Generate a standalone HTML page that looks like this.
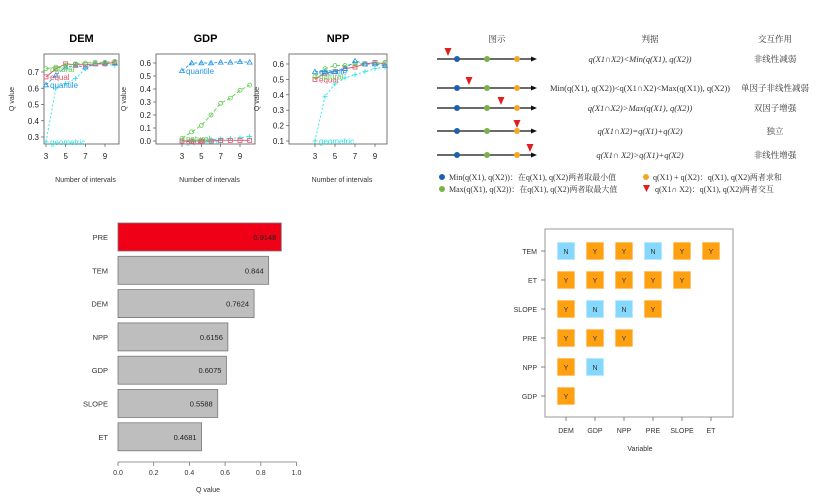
<!DOCTYPE html>
<html><head><meta charset="utf-8"><style>
body{margin:0;background:#fff}
svg{display:block;font-family:"Liberation Sans",sans-serif}
.cn{font-family:"Liberation Serif","Noto Serif CJK SC",serif}
</style></head><body>
<svg id="s" width="829" height="504" viewBox="0 0 829 504">
<g id="diag" class="cn" font-size="8.5" fill="#333">
<text x="497" y="42" text-anchor="middle">图示</text>
<text x="650" y="42" text-anchor="middle">判据</text>
<text x="775" y="42" text-anchor="middle">交互作用</text>
</g>
</svg>
<script>
var NS='http://www.w3.org/2000/svg',S=document.getElementById('s');
function mk(t,a,p){var e=document.createElementNS(NS,t);for(var k in a)e.setAttribute(k,a[k]);(p||S).appendChild(e);return e;}
function tx(x,y,s,a,p){a=a||{};a.x=x;a.y=y;var e=mk('text',a,p);e.textContent=s;return e;}

var xs=[3,4,5,6,7,8,9,10];
var demEqual=[0.67,0.72,0.75,0.745,0.745,0.75,0.75,0.76];
var demNatural=[0.72,0.73,0.74,0.75,0.755,0.76,0.76,0.765];
var demQuantile=[0.62,0.68,0.73,0.74,0.73,0.75,0.755,0.755];
var demGeometric=[0.27,0.6,0.63,0.66,0.72,0.75,0.75,0.74];
var gdpEqual=[0,0,0,0,0.005,0.005,0.005,0.005];
var gdpNatural=[0.02,0.07,0.12,0.2,0.29,0.33,0.39,0.43];
var gdpQuantile=[0.54,0.6,0.6,0.6,0.605,0.605,0.61,0.605];
var gdpGeometric=[0,0.005,0.005,0.01,0.015,0.02,0.025,0.035];
var nppEqual=[0.5,0.54,0.55,0.57,0.58,0.6,0.61,0.6];
var nppNatural=[0.52,0.57,0.59,0.59,0.6,0.6,0.6,0.61];
var nppQuantile=[0.55,0.55,0.55,0.57,0.62,0.6,0.6,0.59];
var nppGeometric=[0.1,0.39,0.47,0.51,0.53,0.55,0.57,0.58];
var demTicks=[0.3,0.4,0.5,0.6,0.7], gdpTicks=[0,0.1,0.2,0.3,0.4,0.5,0.6], nppTicks=[0.1,0.2,0.3,0.4,0.5,0.6];
var xTicks=[3,5,7,9];

function panel(name,box,x3,x9,yv1,yp1,yv2,yp2,ticks,ser,id){
  var g=mk('g',{});
  
  
  var sx=function(v){return x3+(v-3)*(x9-x3)/6;};
  var sy=function(v){return yp1+(v-yv1)*(yp2-yp1)/(yv2-yv1);};
  var r=mk('rect',{x:box[0],y:box[1],width:box[2]-box[0],height:box[3]-box[1],fill:'none',stroke:'#555','stroke-width':0.8},g);
  
  var t=tx((box[0]+box[2])/2,42,name,{'text-anchor':'middle','font-size':11,'font-weight':'bold'},g);
  
  ticks.forEach(function(v){var y=sy(v);mk('line',{x1:box[0]-3,x2:box[0],y1:y,y2:y,stroke:'#555','stroke-width':0.7},g);
    var l=tx(box[0]-5,y+3,v.toFixed(1),{'text-anchor':'end','font-size':8,fill:'#222'},g);
    });
  xTicks.forEach(function(v){var x=sx(v);mk('line',{x1:x,x2:x,y1:box[3],y2:box[3]+3,stroke:'#555','stroke-width':0.7},g);
    var l=tx(x,159,String(v),{'text-anchor':'middle','font-size':8,fill:'#222'},g);
    });
  var xl=tx((box[0]+box[2])/2+4,182,'Number of intervals',{'text-anchor':'middle','font-size':7,fill:'#333'},g);
  
  var yl=tx(0,0,'Q value',{'text-anchor':'middle','font-size':7,fill:'#333',transform:'translate('+(box[0]-30)+','+((box[1]+box[3])/2)+') rotate(-90)'},g);
  
  ser.forEach(function(s){
    var pts=xs.map(function(v,i){return sx(v)+','+sy(s.d[i]);}).join(' ');
    var pl=mk('polyline',{points:pts,fill:'none',stroke:s.c,'stroke-width':0.9,'stroke-dasharray':s.dash||'none'},g);
    
    xs.forEach(function(v,i){var x=sx(v),y=sy(s.d[i]),m;
      if(s.m=='sq')m=mk('rect',{x:x-2,y:y-2,width:4,height:4,fill:'none',stroke:s.c,'stroke-width':0.8},g);
      else if(s.m=='ci')m=mk('circle',{cx:x,cy:y,r:2,fill:'none',stroke:s.c,'stroke-width':0.8},g);
      else if(s.m=='tr')m=mk('path',{d:'M'+x+' '+(y-2.5)+'L'+(x+2.5)+' '+(y+1.8)+'L'+(x-2.5)+' '+(y+1.8)+'Z',fill:'none',stroke:s.c,'stroke-width':0.8},g);
      else m=mk('path',{d:'M'+(x-2.5)+' '+y+'H'+(x+2.5)+'M'+x+' '+(y-2.5)+'V'+(y+2.5),stroke:s.c,'stroke-width':0.8},g);
      });
    var lb=tx(sx(3)+4,sy(s.d[0])+3,s.n,{'font-size':8,fill:s.c},g);
    
  });
}
var C={e:'#df536b',n:'#61d04f',q:'#2297e6',g:'#28e2e5'};
panel('DEM',[44,54,119,144],46,105,0.7,72,0.3,137,demTicks,[
 {n:'geometric',d:demGeometric,c:C.g,m:'pl',dash:'2,2'},{n:'quantile',d:demQuantile,c:C.q,m:'tr',dash:'3,2'},
 {n:'equal',d:demEqual,c:C.e,m:'sq'},{n:'natural',d:demNatural,c:C.n,m:'ci',dash:'4,2'}],'dem');
panel('GDP',[156,54,255,144],182,240,0.6,63,0,141,gdpTicks,[
 {n:'geometric',d:gdpGeometric,c:C.g,m:'pl',dash:'2,2'},{n:'equal',d:gdpEqual,c:C.e,m:'sq'},
 {n:'natural',d:gdpNatural,c:C.n,m:'ci',dash:'4,2'},{n:'quantile',d:gdpQuantile,c:C.q,m:'tr',dash:'3,2'}],'gdp');
panel('NPP',[289,54,387,144],315,375,0.6,64,0.1,141,nppTicks,[
 {n:'geometric',d:nppGeometric,c:C.g,m:'pl',dash:'2,2'},{n:'equal',d:nppEqual,c:C.e,m:'sq'},
 {n:'natural',d:nppNatural,c:C.n,m:'ci',dash:'4,2'},{n:'quantile',d:nppQuantile,c:C.q,m:'tr',dash:'3,2'}],'npp');

var D=document.getElementById('diag');
var rowY=[59,88,108,131,155], triX=[448,469,501,517,530];
var crit=['q(X1∩X2)<Min(q(X1), q(X2))','Min(q(X1), q(X2))<q(X1∩X2)<Max(q(X1)), q(X2))','q(X1∩X2)>Max(q(X1), q(X2))','q(X1∩X2)=q(X1)+q(X2)','q(X1∩ X2)>q(X1)+q(X2)'];
var inter=['非线性减弱','单因子非线性减弱','双因子增强','独立','非线性增强'];
rowY.forEach(function(y,i){
  var l=mk('line',{x1:437,x2:532,y1:y,y2:y,stroke:'#111','stroke-width':1.2},D);
  
  mk('path',{d:'M531 '+(y-2.5)+'L537 '+y+'L531 '+(y+2.5)+'Z',fill:'#111'},D);
  [[457,'#1f5fb0'],[487,'#7bb04a'],[517,'#f5a623']].forEach(function(p){var c=mk('circle',{cx:p[0],cy:y,r:3,fill:p[1]},D);
    });
  var t=mk('path',{d:'M'+(triX[i]-3.5)+' '+(y-11)+'H'+(triX[i]+3.5)+'L'+triX[i]+' '+(y-3)+'Z',fill:'#e02020'},D);
  
  var a=tx(640,y+3,crit[i],{'text-anchor':'middle','font-size':8.5,'font-style':i==1?'normal':'italic'},D);
  
  var b=tx(775,y+3,inter[i],{'text-anchor':'middle','font-size':8.5},D);
  
});
[[442,177,'#1f5fb0','Min(q(X1), q(X2))：在q(X1), q(X2)两者取最小值'],[442,189,'#7bb04a','Max(q(X1), q(X2))：在q(X1), q(X2)两者取最大值'],[646,177,'#f5a623','q(X1) + q(X2)：q(X1), q(X2)两者求和']].forEach(function(r){
  var c=mk('circle',{cx:r[0],cy:r[1],r:3,fill:r[2]},D);
  var t=tx(r[0]+7,r[1]+3,r[3],{'font-size':8},D);});
var lt=mk('path',{d:'M643 185H650L646.5 192Z',fill:'#e02020'},D);
var lt2=tx(655,192,'q(X1∩ X2)：q(X1), q(X2)两者交互',{'font-size':8},D);

var barCats=['PRE','TEM','DEM','NPP','GDP','SLOPE','ET'];
var barVals=[0.9148,0.844,0.7624,0.6156,0.6075,0.5588,0.4681];
var barTicks=[0,0.2,0.4,0.6,0.8,1.0];
var bx=function(v){return 118+v*178.5;};
var by=function(i){return 237+i*33.3;};
barCats.forEach(function(c,i){
  var r=mk('rect',{x:bx(0),y:by(i)-14,width:bx(barVals[i])-bx(0),height:28,fill:i==0?'#f00016':'#bebebe',stroke:'#777','stroke-width':0.8});
  
  var v=tx(bx(barVals[i])-5,by(i)+3,String(barVals[i]),{'text-anchor':'end','font-size':7.5,fill:'#222'});
  
  var l=tx(108,by(i)+3,c,{'text-anchor':'end','font-size':7.5,fill:'#333'});
  
});
var ax=mk('line',{x1:bx(0),x2:bx(1),y1:462,y2:462,stroke:'#777','stroke-width':0.8});

barTicks.forEach(function(v){mk('line',{x1:bx(v),x2:bx(v),y1:462,y2:466,stroke:'#777','stroke-width':0.8});
  var t=tx(bx(v),475,v.toFixed(1),{'text-anchor':'middle','font-size':7,fill:'#333'});
  });
var bq=tx(208,492,'Q value',{'text-anchor':'middle','font-size':7,fill:'#333'});


var hmCols=['DEM','GDP','NPP','PRE','SLOPE','ET'];
var hmRows=['TEM','ET','SLOPE','PRE','NPP','GDP'];
var hmVals=[['N','Y','Y','N','Y','Y'],['Y','Y','Y','Y','Y'],['Y','N','N','Y'],['Y','Y','Y'],['Y','N'],['Y']];
var hx=function(i){return 566+i*29;}, hy=function(j){return 251+j*29;};
var fr=mk('rect',{x:545,y:229,width:188,height:188,fill:'none',stroke:'#999','stroke-width':1});

hmRows.forEach(function(r,j){
  mk('line',{x1:541,x2:545,y1:hy(j),y2:hy(j),stroke:'#666','stroke-width':0.8});
  var l=tx(537,hy(j)+3,r,{'text-anchor':'end','font-size':7,fill:'#333'});
  
  hmVals[j].forEach(function(v,i){
    var c=mk('rect',{x:hx(i)-8.5,y:hy(j)-8.5,width:17,height:17,fill:v=='Y'?'#ffa010':'#85d8fb',stroke:v=='Y'?'#ffc060':'#b0e8ff','stroke-width':0.7});
    
    var t=tx(hx(i),hy(j)+3,v,{'text-anchor':'middle','font-size':7,fill:'#333'});
    });
});
hmCols.forEach(function(c,i){
  mk('line',{x1:hx(i),x2:hx(i),y1:417,y2:421,stroke:'#666','stroke-width':0.8});
  var l=tx(hx(i),433,c,{'text-anchor':'middle','font-size':7,fill:'#333'});
  });
var vt=tx(640,451,'Variable',{'text-anchor':'middle','font-size':7,fill:'#333'});

</script>
</body></html>
